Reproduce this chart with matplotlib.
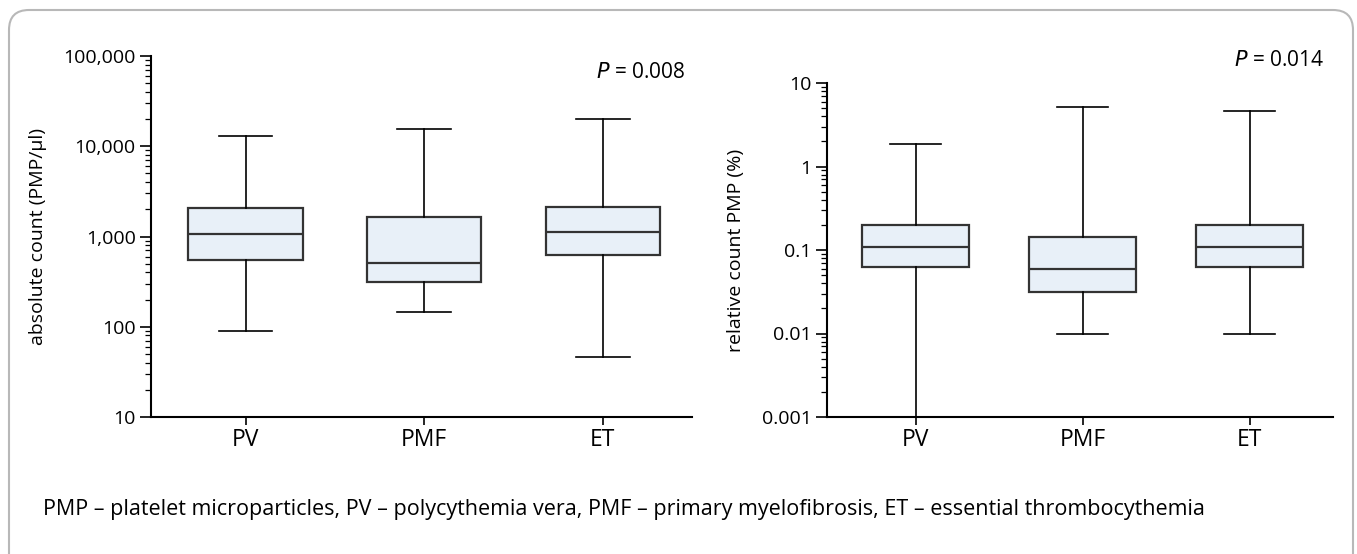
import matplotlib
matplotlib.use('Agg')
import matplotlib.pyplot as plt
from matplotlib.patches import FancyBboxPatch
from matplotlib.ticker import FixedLocator, LogLocator, NullFormatter

plt.rcParams['font.family'] = ['Open Sans', 'DejaVu Sans']

groups = ['PV', 'PMF', 'ET']

# absolute count (PMP/ul): whisker low, Q1, median, Q3, whisker high
abs_low = [90, 145, 46]
abs_q1 = [550, 310, 620]
abs_med = [1070, 510, 1120]
abs_q3 = [2080, 1650, 2120]
abs_high = [13000, 15500, 20000]

# relative count PMP (%)
rel_low = [0.001, 0.01, 0.01]
rel_q1 = [0.063, 0.031, 0.063]
rel_med = [0.11, 0.06, 0.11]
rel_q3 = [0.2, 0.142, 0.2]
rel_high = [1.85, 5.2, 4.6]

abs_ticks = [10, 100, 1000, 10000, 100000]
abs_labels = ['10', '100', '1,000', '10,000', '100,000']
rel_ticks = [0.001, 0.01, 0.1, 1, 10]
rel_labels = ['0.001', '0.01', '0.1', '1', '10']

caption = ('PMP \u2013 platelet microparticles, PV \u2013 polycythemia vera, '
           'PMF \u2013 primary myelofibrosis, ET \u2013 essential thrombocythemia')

W, H = 1357, 554
fig = plt.figure(figsize=(W / 100, H / 100), dpi=100)

# rounded frame, open at the bottom edge (in inches)
frame = FancyBboxPatch((0.09, -0.4), 13.53 - 0.09, (H - 10) / 100 + 0.4,
                       boxstyle='round,pad=0,rounding_size=0.2',
                       transform=fig.dpi_scale_trans, fill=False,
                       edgecolor='#b8b8b8', linewidth=1.5)
fig.patches.append(frame)


def make_stats(low, q1, med, q3, high):
    return [dict(whislo=low[i], q1=q1[i], med=med[i], q3=q3[i], whishi=high[i],
                 label=groups[i]) for i in range(len(groups))]


def draw_panel(ax, stats, ticks, labels, ylabel):
    ax.bxp(stats, positions=[1, 2, 3], widths=0.64, patch_artist=True,
           showfliers=False, capwidths=0.3,
           boxprops=dict(facecolor='#e8f0f8', edgecolor='#333333', linewidth=1.6),
           medianprops=dict(color='#333333', linewidth=1.6),
           whiskerprops=dict(color='black', linewidth=1.2),
           capprops=dict(color='black', linewidth=1.2))
    ax.set_yscale('log')
    ax.set_ylim(ticks[0], ticks[-1])
    ax.set_xlim(0.47, 3.5)
    ax.yaxis.set_major_locator(FixedLocator(ticks))
    ax.set_yticklabels(labels)
    ax.yaxis.set_minor_locator(LogLocator(base=10, subs=range(2, 10)))
    ax.yaxis.set_minor_formatter(NullFormatter())
    ax.set_xticks([1, 2, 3])
    ax.set_xticklabels(groups)
    for s in ['top', 'right']:
        ax.spines[s].set_visible(False)
    for s in ['left', 'bottom']:
        ax.spines[s].set_linewidth(1.5)
    ax.tick_params(axis='y', which='major', length=8, width=1.2,
                   labelsize=14, pad=3)
    ax.tick_params(axis='x', which='major', length=6, width=1.2,
                   labelsize=16.5, pad=2)
    ax.tick_params(axis='y', which='minor', length=4, width=0.9)
    ax.set_ylabel(ylabel, fontsize=14, labelpad=12)
    ax.patch.set_alpha(0)
    return ax


ax1 = fig.add_axes([151 / W, 137 / H, 541 / W, 361 / H])
draw_panel(ax1, make_stats(abs_low, abs_q1, abs_med, abs_q3, abs_high),
           abs_ticks, abs_labels, 'absolute count (PMP/\u03bcl)')
fig.text(685 / W, 1 - 72 / H, '$\\it{P}$ = 0.008', ha='right', va='center',
         fontsize=15)

ax2 = fig.add_axes([827 / W, 137 / H, 506 / W, 334 / H])
draw_panel(ax2, make_stats(rel_low, rel_q1, rel_med, rel_q3, rel_high),
           rel_ticks, rel_labels, 'relative count PMP (%)')
fig.text(1324 / W, 1 - 61 / H, '$\\it{P}$ = 0.014', ha='right', va='center',
         fontsize=15)

fig.text(43 / W, 1 - 510 / H, caption, ha='left', va='center', fontsize=15.5)

fig.savefig('out.png', dpi=100)
